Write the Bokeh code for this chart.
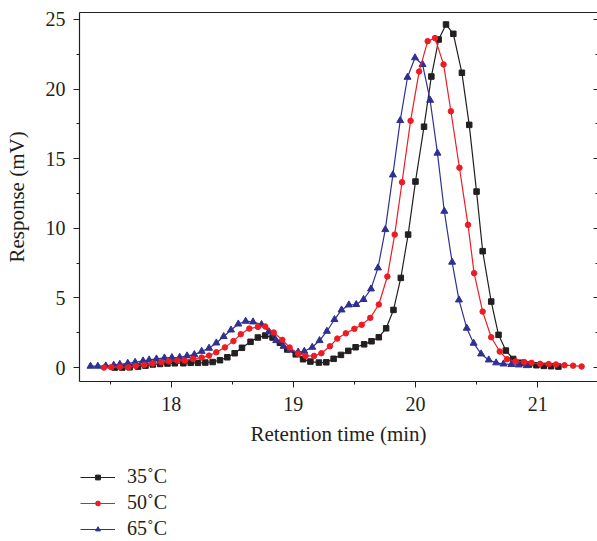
from bokeh.plotting import figure
from bokeh.layouts import column
from bokeh.models import (Range1d, LinearAxis, SingleIntervalTicker, FixedTicker,
                          Legend, LegendItem, CustomJSTickFormatter)
from bokeh.embed import file_html
from bokeh.resources import INLINE

# ---- data ----
time_35 = [17.54, 17.60, 17.66, 17.73, 17.79, 17.85, 17.91, 17.97, 18.03, 18.10,
           18.16, 18.22, 18.28, 18.34, 18.40, 18.46, 18.52, 18.58, 18.65, 18.71,
           18.77, 18.83, 18.89, 18.95, 19.02, 19.08, 19.14, 19.21, 19.27, 19.33,
           19.39, 19.45, 19.51, 19.58, 19.64, 19.70, 19.76, 19.82, 19.88, 19.94,
           20.00, 20.07, 20.13, 20.19, 20.25, 20.31, 20.38, 20.44, 20.50, 20.55,
           20.62, 20.68, 20.74, 20.80, 20.86, 20.93, 20.99, 21.05, 21.11, 21.17]
resp_35 = [0.00, 0.00, 0.02, 0.07, 0.14, 0.22, 0.26, 0.29, 0.31, 0.31,
           0.34, 0.34, 0.36, 0.40, 0.53, 0.74, 1.03, 1.42, 1.85, 2.16,
           2.30, 2.16, 1.78, 1.30, 0.95, 0.60, 0.43, 0.36, 0.38, 0.63,
           0.91, 1.20, 1.46, 1.67, 1.89, 2.18, 2.82, 4.14, 6.44, 9.55,
           13.36, 17.30, 20.90, 23.56, 24.64, 23.97, 21.17, 17.43, 12.64, 8.36,
           4.74, 2.35, 1.22, 0.62, 0.35, 0.22, 0.17, 0.12, 0.10, 0.07]

time_50 = [17.45, 17.51, 17.58, 17.65, 17.71, 17.78, 17.85, 17.92, 17.98, 18.05,
           18.11, 18.18, 18.25, 18.31, 18.37, 18.44, 18.51, 18.57, 18.64, 18.71,
           18.77, 18.84, 18.91, 18.97, 19.04, 19.10, 19.17, 19.23, 19.30, 19.36,
           19.43, 19.50, 19.56, 19.63, 19.70, 19.77, 19.83, 19.89, 19.96, 20.03,
           20.10, 20.16, 20.23, 20.29, 20.36, 20.43, 20.48, 20.55, 20.62, 20.69,
           20.75, 20.82, 20.89, 20.95, 21.02, 21.09, 21.15, 21.22, 21.29, 21.36]
resp_50 = [0.00, 0.02, 0.05, 0.02, 0.12, 0.19, 0.29, 0.38, 0.45, 0.50,
           0.50, 0.62, 0.72, 0.86, 1.10, 1.45, 1.90, 2.40, 2.80, 2.92,
           2.95, 2.52, 1.99, 1.44, 1.00, 0.84, 0.84, 1.03, 1.53, 2.08,
           2.46, 2.78, 3.07, 3.57, 4.53, 6.54, 9.55, 13.31, 17.72, 21.26,
           23.44, 23.66, 21.77, 18.41, 14.35, 10.25, 6.78, 4.02, 2.18, 1.15,
           0.60, 0.45, 0.40, 0.34, 0.27, 0.25, 0.22, 0.17, 0.14, 0.08]

time_65 = [17.34, 17.40, 17.465, 17.53, 17.58, 17.645, 17.705, 17.77, 17.82, 17.88,
           17.945, 18.006, 18.07, 18.13, 18.19, 18.25, 18.31, 18.37, 18.43, 18.49,
           18.55, 18.61, 18.67, 18.74, 18.80, 18.86, 18.92, 18.975, 19.04, 19.09,
           19.155, 19.215, 19.275, 19.337, 19.395, 19.455, 19.515, 19.575, 19.636, 19.693,
           19.753, 19.815, 19.875, 19.935, 19.996, 20.058, 20.12, 20.18, 20.236, 20.30,
           20.356, 20.42, 20.476, 20.537, 20.60, 20.66, 20.72, 20.785, 20.845, 20.91]
resp_65 = [0.10, 0.10, 0.12, 0.17, 0.24, 0.31, 0.38, 0.48, 0.55, 0.62,
           0.69, 0.72, 0.74, 0.84, 0.93, 1.17, 1.39, 1.77, 2.23, 2.70,
           3.13, 3.33, 3.28, 3.09, 2.58, 1.94, 1.53, 1.26, 1.12, 1.17,
           1.46, 1.94, 2.61, 3.45, 4.14, 4.50, 4.53, 4.89, 5.65, 7.16,
           9.91, 13.84, 17.74, 20.85, 22.25, 21.77, 19.20, 15.40, 11.23, 7.57,
           4.86, 2.83, 1.75, 0.98, 0.55, 0.34, 0.26, 0.22, 0.19, 0.14]

labels = ["35\u02daC", "50\u02daC", "65\u02daC"]
x_ticks_interval = 1
y_ticks_interval = 5

FONT = "Liberation Serif"
INK = "#231f20"
BLACK = "#231f20"
RED = "#ed1c24"
BLUE = "#2e3192"

p = figure(width=597, height=460, output_backend="svg", toolbar_location=None,
           x_range=Range1d(17.25, 21.49), y_range=Range1d(-1.0, 25.5),
           min_border_left=79, min_border_right=0, min_border_top=12,
           min_border_bottom=79,
           x_axis_label="Retention time (min)", y_axis_label="Response (mV)")
p.grid.visible = False
p.outline_line_color = None
p.background_fill_color = "white"
p.border_fill_color = "white"

p.xaxis.ticker = SingleIntervalTicker(interval=x_ticks_interval, num_minor_ticks=2)
p.yaxis.ticker = SingleIntervalTicker(interval=y_ticks_interval, num_minor_ticks=2)

for ax in (p.xaxis[0], p.yaxis[0]):
    ax.axis_line_color = INK
    ax.axis_line_width = 1.2
    ax.major_tick_line_color = INK
    ax.minor_tick_line_color = INK
    ax.major_tick_in = 0
    ax.major_tick_out = 6
    ax.minor_tick_in = 0
    ax.minor_tick_out = 3
    ax.major_label_text_font = FONT
    ax.major_label_text_font_size = "20px"
    ax.major_label_text_color = INK
    ax.axis_label_text_font = FONT
    ax.axis_label_text_font_size = "21px"
    ax.axis_label_text_font_style = "normal"
    ax.axis_label_text_color = INK
p.xaxis.major_label_standoff = 9
p.xaxis.axis_label_standoff = 8
p.yaxis.major_label_standoff = 8
p.yaxis.axis_label_standoff = 14

empty = CustomJSTickFormatter(code="return ''")
ra = LinearAxis(ticker=SingleIntervalTicker(interval=y_ticks_interval, num_minor_ticks=2),
                formatter=empty, major_tick_in=4, major_tick_out=0,
                minor_tick_in=2, minor_tick_out=0, axis_line_color=None,
                major_tick_line_color=INK, minor_tick_line_color=INK,
                major_label_standoff=0)
p.add_layout(ra, "right")
ta = LinearAxis(ticker=FixedTicker(ticks=[]), formatter=empty,
                major_tick_in=0, major_tick_out=0, minor_tick_in=0, minor_tick_out=0,
                axis_line_color=INK, axis_line_width=1.2, major_label_standoff=0)
p.add_layout(ta, "above")

series = [(time_35, resp_35, BLACK, "square", 5.5, labels[0]),
          (time_65, resp_65, BLUE, "triangle", 7, labels[2]),
          (time_50, resp_50, RED, "circle", 5.5, labels[1])]
for t, r, col, mk, sz, lab in series:
    p.line(t, r, line_color=col, line_width=1.2)
    p.scatter(t, r, marker=mk, size=sz, fill_color=col, line_color=col)

# ---- legend panel below the chart (series drawn out of its view) ----
lg = figure(width=597, height=81, output_backend="svg", toolbar_location=None,
            x_range=Range1d(0, 1), y_range=Range1d(100, 101),
            x_axis_location=None, y_axis_location=None,
            min_border_left=0, min_border_right=0, min_border_top=0, min_border_bottom=0)
lg.grid.visible = False
lg.outline_line_color = None
lg.background_fill_color = "white"
lg.border_fill_color = "white"

items = []
for t, r, col, mk, sz, lab in sorted(series, key=lambda s: s[5]):
    ln = lg.line(t, r, line_color=col, line_width=1.2)
    sc = lg.scatter(t, r, marker=mk, size=sz, fill_color=col, line_color=col)
    items.append(LegendItem(label=lab, renderers=[ln, sc]))

legend = Legend(items=items, location=(1, 1), orientation="vertical",
                border_line_color=None, background_fill_alpha=0,
                glyph_width=35, glyph_height=12, label_height=20,
                spacing=3, padding=0, margin=0, label_standoff=12,
                label_text_font=FONT, label_text_font_size="20px",
                label_text_color=INK)
lg.add_layout(legend, "center")

layout = column(p, lg, spacing=0)
open("out.html", "w").write(file_html(layout, INLINE))
